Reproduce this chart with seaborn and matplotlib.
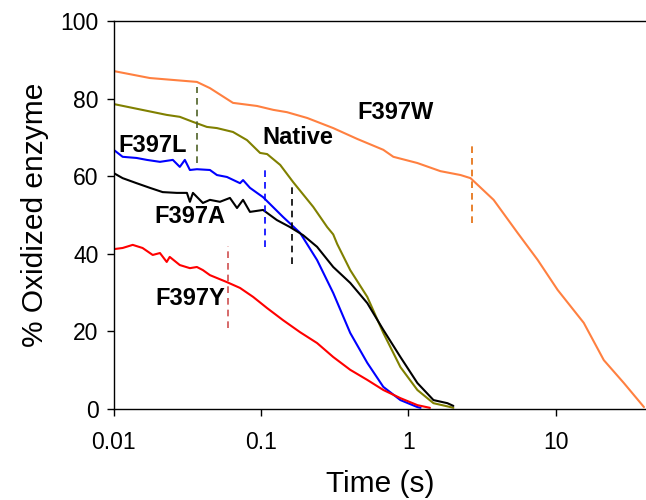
import matplotlib
matplotlib.use("Agg")
import matplotlib.pyplot as plt
import matplotlib.ticker as mticker
import numpy as np
import pandas as pd
import seaborn as sns

sns.set_style("ticks")
plt.rcParams.update({'font.family': ['Liberation Sans', 'DejaVu Sans'],
                     'font.size': 16,
                     'xtick.labelsize': 16.5,
                     'ytick.labelsize': 16.5,
                     'text.color': 'black',
                     'axes.labelcolor': 'black',
                     'axes.edgecolor': 'black',
                     'xtick.color': 'black',
                     'ytick.color': 'black',
                     'axes.linewidth': 1.0})

# time (s) and % oxidized enzyme
t_w = [0.01, 0.0176, 0.0367, 0.045, 0.0645, 0.0939, 0.121, 0.150, 0.206, 0.309, 0.450,
       0.676, 0.791, 1.15, 1.65, 2.26, 2.64, 3.79, 5.51, 7.55, 10.3, 15.5, 21.2, 29.0, 39.7]
y_w = [87.1, 85.3, 84.3, 82.7, 78.9, 78.1, 77.1, 76.5, 75.0, 72.4, 69.6,
       66.8, 65.0, 63.4, 61.3, 60.3, 59.5, 53.9, 45.4, 38.4, 30.7, 22.2, 12.6, 6.7, 0.5]

t_nat = [0.01, 0.0229, 0.0281, 0.0345, 0.0429, 0.0502, 0.0645, 0.0803, 0.0985, 0.110,
         0.135, 0.165, 0.226, 0.281, 0.309, 0.329, 0.403, 0.526, 0.676, 0.883, 1.151,
         1.48, 1.93, 2.02]
y_nat = [78.6, 75.8, 75.3, 74.0, 72.7, 72.4, 71.4, 69.3, 66.0, 65.7,
         62.9, 58.5, 52.1, 46.9, 45.0, 42.5, 35.8, 28.9, 19.6, 10.8, 4.9,
         1.5, 0.5, 0.3]

t_l = [0.01, 0.0115, 0.0143, 0.0168, 0.0206, 0.0252, 0.0281, 0.0304, 0.0329, 0.0367,
       0.045, 0.0502, 0.0587, 0.072, 0.0755, 0.0841, 0.0939, 0.1032, 0.141, 0.184,
       0.240, 0.309, 0.403, 0.526, 0.676, 0.883, 1.151, 1.21]
y_l = [66.8, 65.0, 64.7, 64.2, 63.7, 64.2, 62.4, 64.2, 61.6, 61.8,
       61.6, 60.3, 59.8, 58.2, 59.0, 57.0, 55.7, 54.6, 49.5, 45.4,
       38.4, 29.9, 19.6, 11.9, 5.7, 2.3, 0.5, 0.3]

t_a = [0.01, 0.0115, 0.0143, 0.0176, 0.0215, 0.0268, 0.0314, 0.0329, 0.0345, 0.0403,
       0.045, 0.0526, 0.0615, 0.0687, 0.0755, 0.0841, 0.1032, 0.128, 0.157, 0.193,
       0.240, 0.309, 0.403, 0.526, 0.676, 0.883, 1.151, 1.48, 1.84, 2.02]
y_a = [60.8, 59.5, 58.2, 57.0, 55.9, 55.7, 55.7, 53.4, 55.7, 53.1,
       53.9, 53.4, 54.4, 51.8, 53.9, 50.8, 51.3, 48.7, 46.9, 44.8,
       41.8, 36.6, 32.5, 27.3, 20.4, 13.4, 6.7, 2.3, 1.5, 0.8]

t_y = [0.01, 0.0115, 0.01346, 0.0157, 0.0184, 0.0206, 0.0229, 0.024, 0.0281, 0.0329,
       0.0367, 0.0403, 0.045, 0.0587, 0.072, 0.0883, 0.110, 0.141, 0.184, 0.240,
       0.309, 0.403, 0.526, 0.676, 0.883, 1.151, 1.4]
y_y = [41.2, 41.5, 42.3, 41.5, 39.7, 40.2, 37.9, 39.2, 37.1, 36.3,
       36.6, 35.8, 34.5, 32.7, 31.2, 28.9, 26.0, 22.9, 19.8, 17.0,
       13.4, 10.1, 7.5, 4.9, 2.8, 1.0, 0.3]

series = ['F397W', 'Native', 'F397L', 'F397A', 'F397Y']
colors = {'F397W': '#ff8040', 'Native': '#808000', 'F397L': '#0000ff',
          'F397A': '#000000', 'F397Y': '#ff0000'}

# dashed markers: time, y from, y to, colour
mark_t = [0.0367, 0.106, 0.163, 0.0597, 2.69]
mark_lo = [63.4, 41.8, 37.4, 20.9, 47.9]
mark_hi = [83.0, 62.6, 58.2, 42.0, 68.6]
mark_c = ['#4f6228', '#0000ff', '#000000', '#d05050', '#e46c0a']

# label positions
lab_t = [0.82, 0.179, 0.0184, 0.0329, 0.0329]
lab_y = [76.5, 70.1, 68.0, 49.7, 28.6]

df = pd.concat([
    pd.DataFrame({'time': t, 'ox': y, 'enzyme': name})
    for name, t, y in zip(series, [t_w, t_nat, t_l, t_a, t_y], [y_w, y_nat, y_l, y_a, y_y])
])

fig = plt.figure(figsize=(6.46, 5.0), dpi=100)
ax = fig.add_axes([0.176, 0.182, 0.824, 0.776])

sns.lineplot(data=df, x='time', y='ox', hue='enzyme', palette=colors,
             estimator=None, sort=False, linewidth=1.5, legend=False, ax=ax)

for t, lo, hi, c in zip(mark_t, mark_lo, mark_hi, mark_c):
    ax.vlines(t, lo, hi, colors=c, linestyles=(0, (4, 3)), linewidth=1.2)

for name, t, y in zip(series, lab_t, lab_y):
    ax.text(t, y, name, ha='center', va='center', fontsize=17, fontweight='bold')

ax.set_xscale('log')
ax.set_xlim(0.01, 41)
ax.set_ylim(0, 100)
ax.set_yticks([0, 20, 40, 60, 80, 100])
ax.set_xticks([0.01, 0.1, 1, 10])
ax.xaxis.set_major_formatter(mticker.FuncFormatter(lambda v, p: f'{v:g}'))
ax.xaxis.set_minor_locator(mticker.NullLocator())
ax.tick_params(axis='x', direction='out', length=5, width=1, pad=11)
ax.spines['right'].set_visible(False)
ax.tick_params(axis='y', direction='out', length=5, width=1, pad=6)
ax.set_xlabel('Time (s)', fontsize=21.5, labelpad=11)
ax.set_ylabel('% Oxidized enzyme', fontsize=21.5, labelpad=8)

fig.savefig('out.png', dpi=100)
